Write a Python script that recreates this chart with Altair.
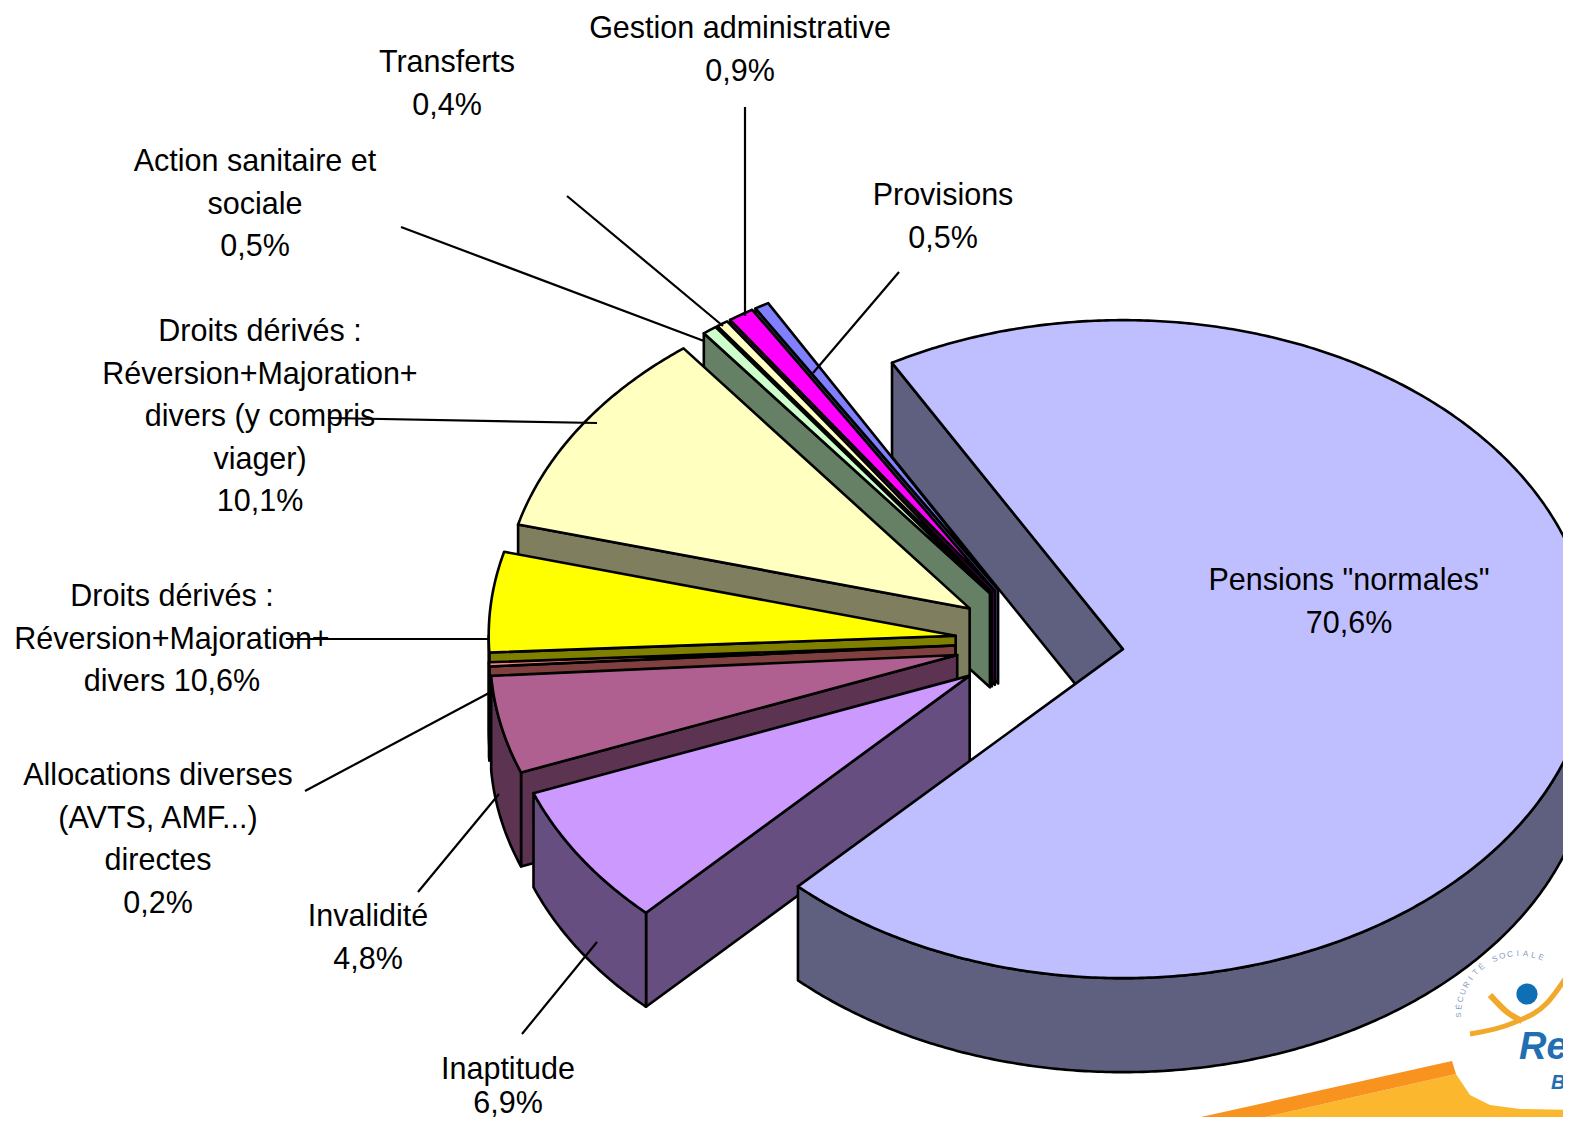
import math
import altair as alt

# ---- values ----
SLICE_NAMES = ["Pensions normales", "Provisions", "Gestion administrative", "Transferts",
               "Action sanitaire et sociale", "Droits derives viager", "Droits derives",
               "Allocations diverses", "Invalidite", "Inaptitude"]
# angular shares (the yellow slice is drawn smaller than its printed 10,6%)
SHARES = [70.38, 0.5, 0.9, 0.4, 0.5, 10.4, 4.92, 0.2, 4.8, 7.0]
EXPLODES = [0.174, 0.185, 0.185, 0.185, 0.185, 0.185, 0.185, 0.185, 0.185, 0.185]
RADII_X = [469, 467, 467, 467, 467, 467, 467, 467, 467, 467]
TOPS = ["#BFBFFF", "#8080FF", "#FF00FF", "#FFFFC4", "#CCFFCC", "#FFFFC0", "#FFFF00", "#FF8080", "#B06090", "#CC99FF"]
WALLS = ["#5F5F7F", "#404080", "#800080", "#7F7F60", "#668066", "#7F7F60", "#808000", "#804040", "#5C3350", "#664F80"]

LABEL_TEXT = [
    ["Gestion administrative", "0,9%"], ["Transferts", "0,4%"],
    ["Action sanitaire et", "sociale", "0,5%"], ["Provisions", "0,5%"],
    ["Droits dérivés :", "Réversion+Majoration+", "divers (y compris", "viager)", "10,1%"],
    ["Droits dérivés :", "Réversion+Majoration+", "divers 10,6%"],
    ["Allocations diverses", "(AVTS, AMF...)", "directes", "0,2%"],
    ["Invalidité", "4,8%"], ["Inaptitude", "6,9%"], ['Pensions "normales"', "70,6%"],
]
LABEL_X = [740, 447, 255, 943, 260, 172, 158, 368, 508, 1349]
LABEL_TOP = [29, 63, 162, 196, 332, 597, 776, 917, 1070, 581]
LABEL_STEP = [42.6, 42.6, 42.6, 42.6, 42.6, 42.6, 42.6, 42.6, 34, 42.6]
LEADERS = [((745, 107), (745, 316)), ((567, 196), (723, 326)), ((401, 227), (704, 341)),
           ((899, 272), (813, 373)), ((328, 418), (597, 423)), ((286, 639), (488, 639)),
           ((305, 791), (489, 693)), ((418, 892), (499, 794)), ((522, 1034), (597, 942))]

# ---- pie geometry (page pixels) ----
CX, CY, RY, DEPTH = 1042, 642, 329, 94
START = 119.5  # degrees, the main slice runs clockwise from here


def rim(cx, cy, t, rx):
    r = math.radians(t)
    return [cx + rx * math.cos(r), cy - RY * math.sin(r)]


def down(p):
    return [p[0], p[1] + DEPTH]


def feature(points, fill):
    pts = points + [points[0]]
    return {"type": "Feature", "properties": {"fill": fill},
            "geometry": {"type": "Polygon", "coordinates": [pts]}}


def arc(cx, cy, a, b, rx):
    n = max(2, int(abs(b - a)) * 2)
    return [rim(cx, cy, a + (b - a) * i / n, rx) for i in range(n + 1)]


def slice_features(lo, hi, top, wall, explode, rx):
    mid = math.radians((lo + hi) / 2)
    cx = CX + explode * 469 * math.cos(mid)
    cy = CY - explode * RY * math.sin(mid)
    apex = [cx, cy]
    out = []
    # radial wall on the side that faces the viewer
    for t, visible in ((hi, math.cos(math.radians(hi)) < 0), (lo, math.cos(math.radians(lo)) > 0)):
        if visible:
            e = rim(cx, cy, t, rx)
            out.append(feature([apex, e, down(e), down(apex)], wall))
    # outer wall: only the part on the near half of the ellipse
    a, b = max(lo, 180), min(hi, 360)
    if b > a:
        edge = arc(cx, cy, a, b, rx)
        out.append(feature(edge + [down(p) for p in reversed(edge)], wall))
    a, b = max(lo, -180), min(hi, 0)
    if b > a:
        edge = arc(cx, cy, a, b, rx)
        out.append(feature(edge + [down(p) for p in reversed(edge)], wall))
    out.append(feature([apex] + arc(cx, cy, lo, hi, rx), top))
    return out


features = []
angle = START
spans = []
for s in SHARES[1:]:
    spans.append((angle, angle + s * 3.6))
    angle += s * 3.6
for (lo, hi), top, wall, ex, rx in zip(spans, TOPS[1:], WALLS[1:], EXPLODES[1:], RADII_X[1:]):
    features += slice_features(lo, hi, top, wall, ex, rx)
features += slice_features(START - SHARES[0] * 3.6, START, TOPS[0], WALLS[0], EXPLODES[0], RADII_X[0])

# ---- corner logo shapes ----
logo = [
    feature([[1230, 1125], [1456, 1074], [1470, 1095], [1490, 1105], [1520, 1109], [1571, 1110], [1571, 1125]], "#FBB72E"),
    feature([[1165, 1125], [1452, 1061], [1456, 1074], [1230, 1125]], "#F7931E"),
]
swoosh_x = [1470, 1513, 1547, 1571]
swoosh_y = [1034, 1023, 1003, 970]
swoosh2_x = [1490, 1507, 1522]
swoosh2_y = [995, 1012, 1021]
logo_text = [("Ret", 1519, 1048, 38, "#1F6FB2"), ("Bo", 1551, 1083, 20, "#1F6FB2")]
ARC_LETTERS = "SÉCURITÉ SOCIALE"

W, H = 1555, 1109
sx = alt.Scale(domain=[8, 8 + W], range=[0, W])
sy = alt.Scale(domain=[8, 8 + H], range=[0, H])


def geo(feats, **kw):
    return alt.Chart(alt.InlineData(values={"type": "FeatureCollection", "features": feats},
                                    format=alt.DataFormat(property="features", type="json"))
                     ).mark_geoshape(clip=True, **kw).encode(
        fill=alt.Fill("properties.fill:N", scale=None)).project(type="identity", scale=1, translate=[-8, -8])


def curve(xs, ys, width):
    return alt.Chart(alt.Data(values=[{"x": a, "y": b, "i": i} for i, (a, b) in enumerate(zip(xs, ys))])
                     ).mark_line(color="#F0A92B", strokeWidth=width, clip=True, interpolate="monotone").encode(
        x=alt.X("x:Q", scale=sx, axis=None), y=alt.Y("y:Q", scale=sy, axis=None), order="i:Q")


logo_layer = geo(logo, strokeWidth=0)
shape_layer = geo(features, stroke="black", strokeWidth=2.6, strokeJoin="round")

dot = alt.Chart(alt.Data(values=[{"x": 1527, "y": 994}])).mark_circle(size=450, color="#0F6FB5", opacity=1).encode(
    x=alt.X("x:Q", scale=sx, axis=None), y=alt.Y("y:Q", scale=sy, axis=None))

logo_labels = alt.Chart(alt.Data(values=[{"x": x, "y": y, "t": t, "s": s, "c": c} for t, x, y, s, c in logo_text])
                        ).mark_text(font="Liberation Sans", fontStyle="italic", fontWeight="bold", align="left",
                                    baseline="middle", clip=True).encode(
    x=alt.X("x:Q", scale=sx, axis=None), y=alt.Y("y:Q", scale=sy, axis=None),
    text="t:N", size=alt.Size("s:Q", scale=None), color=alt.Color("c:N", scale=None))

letter_rows = []
for i, ch in enumerate(ARC_LETTERS):
    th = 180 - 110 * i / (len(ARC_LETTERS) - 1)
    letter_rows.append({"x": 1520 + 61 * math.cos(math.radians(th)),
                        "y": 1015 - 61 * math.sin(math.radians(th)),
                        "t": ch, "a": (90 - th) % 360})
letters = alt.Chart(alt.Data(values=letter_rows)).mark_text(
    font="Liberation Sans", fontSize=8, color="#7F9CC0", align="center", baseline="middle").encode(
    x=alt.X("x:Q", scale=sx, axis=None), y=alt.Y("y:Q", scale=sy, axis=None), text="t:N",
    angle=alt.Angle("a:Q", scale=None))

rules = alt.Chart(alt.Data(values=[{"x": a[0], "y": a[1], "x2": b[0], "y2": b[1]} for a, b in LEADERS])
                  ).mark_rule(color="black", strokeWidth=2.2).encode(
    x=alt.X("x:Q", scale=sx, axis=None), y=alt.Y("y:Q", scale=sy, axis=None), x2="x2:Q", y2="y2:Q")

rows = []
for lines, x, top, step in zip(LABEL_TEXT, LABEL_X, LABEL_TOP, LABEL_STEP):
    for i, t in enumerate(lines):
        rows.append({"x": x, "y": top + i * step, "t": t})
labels = alt.Chart(alt.Data(values=rows)).mark_text(
    font="Liberation Sans", fontSize=30.5, color="black", align="center", baseline="middle").encode(
    x=alt.X("x:Q", scale=sx, axis=None), y=alt.Y("y:Q", scale=sy, axis=None), text="t:N")

chart = alt.layer(logo_layer, curve(swoosh_x, swoosh_y, 5), curve(swoosh2_x, swoosh2_y, 6), dot, logo_labels, letters,
                  shape_layer, rules, labels).properties(
    width=W, height=H, padding=0, autosize=alt.AutoSizeParams(type="none"), background="white"
).configure_view(stroke=None)

chart.save("out.html", embed_options={"renderer": "svg", "actions": False})
